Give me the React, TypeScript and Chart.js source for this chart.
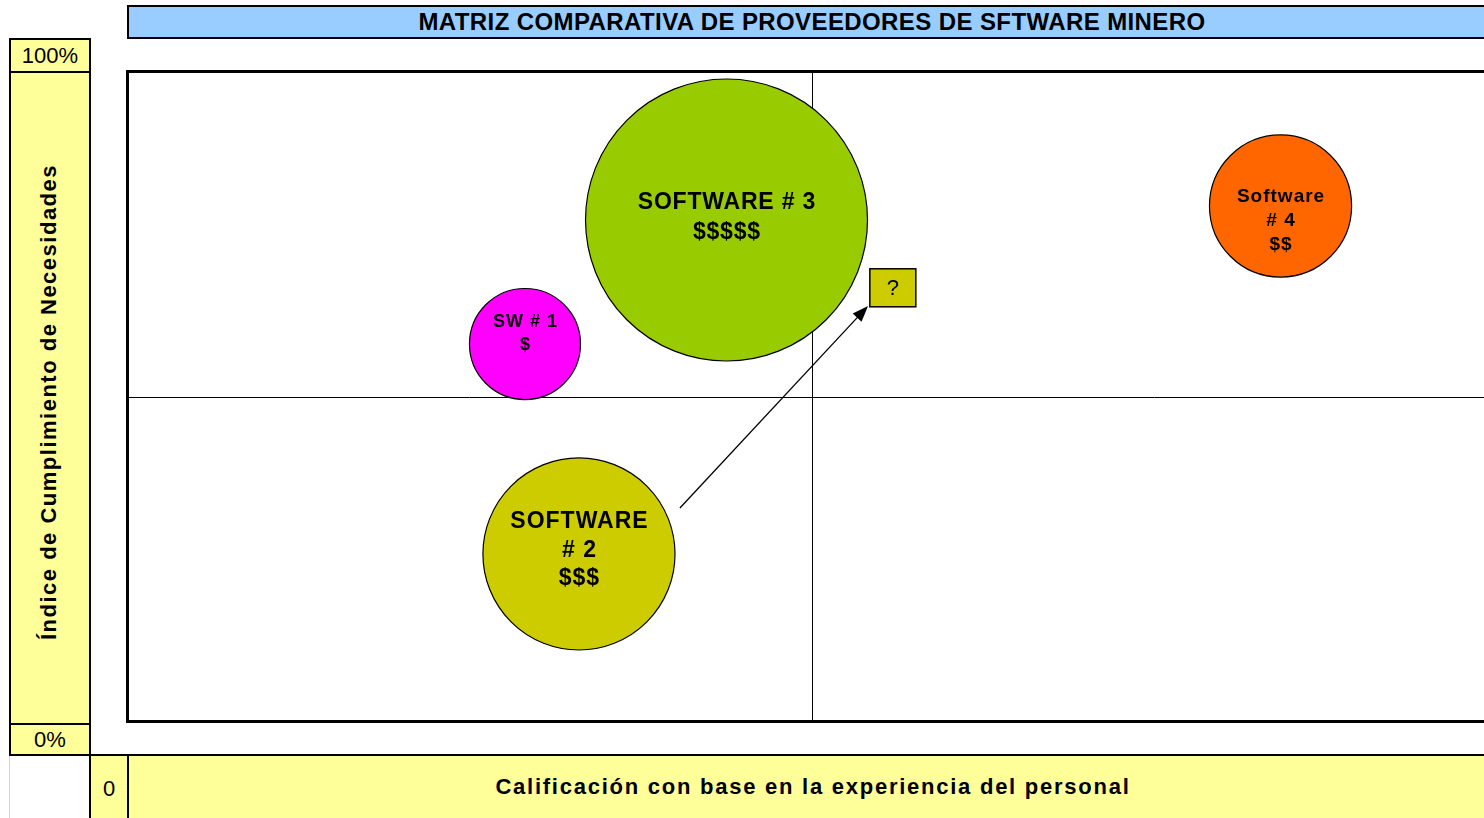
import React, { useEffect, useRef } from 'react';
import { Chart, registerables } from 'chart.js';

Chart.register(...registerables);

// ---------- DATA ----------
const chartTitle = 'MATRIZ COMPARATIVA DE PROVEEDORES DE SFTWARE MINERO';
const xAxisTitle = 'Calificación con base en la experiencia del personal';
const yAxisTitle = 'Índice de Cumplimiento de Necesidades';
const yTickLabels = ['100%', '0%'];
const xTickLabels = ['0'];

const softwareNames = ['SW # 1', 'SOFTWARE # 2', 'SOFTWARE # 3', 'Software # 4'];
const bubbleLabelLines = [
  ['SW # 1', '$'],
  ['SOFTWARE', '# 2', '$$$'],
  ['SOFTWARE # 3', '$$$$$'],
  ['Software', '# 4', '$$'],
];
// x: experience rating (0-100), y: % needs fulfilled, size: relative cost (bubble area)
const experienceScores = [29.05, 32.99, 43.76, 84.2];
const needsCompliance = [58.15, 25.85, 77.23, 79.38];
const costSizes = [15.5, 46.4, 100, 25.4];

const xRange = [0, 100];
const yRange = [0, 100];
const quadrantSplit = [50, 50];

const candidateLabel = '?';
const candidatePoint = [55.9, 66.8];
const arrowFrom = [40.36, 32.92];
const arrowTo = [54.09, 64.0];

// ---------- STYLE ----------
const FONT = "'Liberation Sans', Arial, Helvetica, sans-serif";
const bubbleColors = ['#FF00FF', '#CCCC00', '#99CC00', '#FF6600'];
const MAX_RADIUS = 141;
const labelStyles = [
  { size: 18, lh: 23, dy: -10.5, ls: 1 },
  { size: 23, lh: 28.5, dy: -3.5, ls: 1 },
  { size: 23, lh: 30, dy: -2, ls: 0.8 },
  { size: 19, lh: 24, dy: 15, ls: 1 },
];
const YELLOW = '#FFFF99';
const BLUE = '#99CCFF';

const matrixPlugin = {
  id: 'matrixDecor',
  beforeDatasetsDraw(chart: any) {
    const { ctx, chartArea: a, scales } = chart;
    const x = scales.x;
    const y = scales.y;
    ctx.save();
    ctx.strokeStyle = '#000';
    ctx.lineWidth = 1;
    const mx = Math.round(x.getPixelForValue(quadrantSplit[0])) + 0.5;
    const my = Math.round(y.getPixelForValue(quadrantSplit[1])) + 0.5;
    ctx.beginPath();
    ctx.moveTo(mx, a.top);
    ctx.lineTo(mx, a.bottom);
    ctx.moveTo(a.left, my);
    ctx.lineTo(a.right, my);
    ctx.stroke();
    ctx.lineWidth = 3;
    ctx.strokeRect(a.left + 0.5, a.top - 0.5, a.right - a.left, a.bottom - a.top);
    ctx.restore();
  },
  afterDatasetsDraw(chart: any) {
    const { ctx, scales } = chart;
    const x = scales.x;
    const y = scales.y;
    ctx.save();
    // bubble labels
    chart.data.datasets.forEach((ds: any, i: number) => {
      const el = chart.getDatasetMeta(i).data[0];
      if (!el) return;
      const st = labelStyles[i];
      const lines = bubbleLabelLines[i];
      ctx.font = `bold ${st.size}px ${FONT}`;
      (ctx as any).letterSpacing = `${st.ls}px`;
      ctx.fillStyle = '#000';
      ctx.textAlign = 'center';
      ctx.textBaseline = 'middle';
      const n = lines.length;
      lines.forEach((t: string, k: number) => {
        const ty = el.y + st.dy + (k - (n - 1) / 2) * st.lh;
        ctx.fillText(t, el.x + st.ls / 2, ty);
      });
    });
    (ctx as any).letterSpacing = '0px';
    // arrow
    const x1 = x.getPixelForValue(arrowFrom[0]);
    const y1 = y.getPixelForValue(arrowFrom[1]);
    const x2 = x.getPixelForValue(arrowTo[0]);
    const y2 = y.getPixelForValue(arrowTo[1]);
    const ang = Math.atan2(y2 - y1, x2 - x1);
    const hl = 16;
    const hw = 6;
    ctx.strokeStyle = '#000';
    ctx.fillStyle = '#000';
    ctx.lineWidth = 1.3;
    ctx.beginPath();
    ctx.moveTo(x1, y1);
    ctx.lineTo(x2 - Math.cos(ang) * hl * 0.8, y2 - Math.sin(ang) * hl * 0.8);
    ctx.stroke();
    ctx.beginPath();
    ctx.moveTo(x2, y2);
    const bx = x2 - Math.cos(ang) * hl;
    const by = y2 - Math.sin(ang) * hl;
    ctx.lineTo(bx + Math.sin(ang) * hw, by - Math.cos(ang) * hw);
    ctx.lineTo(bx - Math.sin(ang) * hw, by + Math.cos(ang) * hw);
    ctx.closePath();
    ctx.fill();
    // candidate box
    const cx = x.getPixelForValue(candidatePoint[0]);
    const cy = y.getPixelForValue(candidatePoint[1]);
    const bw = 46;
    const bh = 38;
    ctx.fillStyle = '#CCCC00';
    ctx.fillRect(cx - bw / 2, cy - bh / 2, bw, bh);
    ctx.lineWidth = 1.5;
    ctx.strokeStyle = '#000';
    ctx.strokeRect(cx - bw / 2, cy - bh / 2, bw, bh);
    ctx.fillStyle = '#000';
    ctx.font = `22px ${FONT}`;
    ctx.textAlign = 'center';
    ctx.textBaseline = 'middle';
    ctx.fillText(candidateLabel, cx, cy + 1);
    ctx.restore();
  },
};

function BubbleMatrix() {
  const ref = useRef<HTMLCanvasElement>(null);
  useEffect(() => {
    if (!ref.current) return;
    const datasets = softwareNames.map((name, i) => ({
      label: name,
      data: [{ x: experienceScores[i], y: needsCompliance[i], r: MAX_RADIUS * Math.sqrt(costSizes[i] / 100) }],
      backgroundColor: bubbleColors[i],
      borderColor: '#000',
      borderWidth: 1.2,
      hoverRadius: 0,
    }));
    const chart = new Chart(ref.current, {
      type: 'bubble',
      data: { datasets },
      options: {
        responsive: false,
        animation: false,
        devicePixelRatio: 1,
        layout: { autoPadding: false, padding: { left: 127, top: 72, right: 23, bottom: 96 } },
        plugins: { legend: { display: false }, tooltip: { enabled: false }, title: { display: false } },
        scales: {
          x: { type: 'linear', min: xRange[0], max: xRange[1], display: false },
          y: { type: 'linear', min: yRange[0], max: yRange[1], display: false },
        },
        events: [],
      },
      plugins: [matrixPlugin],
    } as any);
    return () => chart.destroy();
  }, []);
  return (
    <canvas
      ref={ref}
      width={1520}
      height={818}
      style={{ position: 'absolute', left: 0, top: 0, width: 1520, height: 818 }}
    />
  );
}

export default function App() {
  const box: React.CSSProperties = {
    position: 'absolute',
    boxSizing: 'border-box',
    border: '2px solid #000',
    background: YELLOW,
  };
  return (
    <div
      style={{
        position: 'fixed',
        left: 0,
        top: 0,
        width: 1484,
        height: 818,
        overflow: 'hidden',
        background: '#fff',
        fontFamily: FONT,
        color: '#000',
      }}
    >
      {/* title bar */}
      <div
        style={{
          position: 'absolute',
          left: 127,
          top: 5,
          width: 1420,
          height: 34,
          boxSizing: 'border-box',
          border: '2px solid #000',
          background: BLUE,
        }}
      />
      <div
        style={{
          position: 'absolute',
          left: 127,
          top: 7,
          width: 1370,
          height: 30,
          lineHeight: '30px',
          textAlign: 'center',
          fontWeight: 'bold',
          fontSize: 24,
          letterSpacing: '0.4px',
          whiteSpace: 'nowrap',
        }}
      >
        {chartTitle}
      </div>

      {/* y axis column */}
      <div style={{ ...box, left: 9, top: 38, width: 82, height: 35, textAlign: 'center', fontSize: 22, lineHeight: '31px' }}>
        {yTickLabels[0]}
      </div>
      <div style={{ ...box, left: 9, top: 71, width: 82, height: 654 }} />
      <div style={{ ...box, left: 9, top: 723, width: 82, height: 33, textAlign: 'center', fontSize: 22, lineHeight: '30px' }}>
        {yTickLabels[1]}
      </div>
      <div
        style={{
          position: 'absolute',
          left: 49,
          top: 402,
          transform: 'translate(-50%, -50%) rotate(-90deg)',
          whiteSpace: 'nowrap',
          fontWeight: 'bold',
          fontSize: 22,
          letterSpacing: '1.5px',
          lineHeight: '26px',
        }}
      >
        {yAxisTitle}
      </div>

      {/* bottom row */}
      <div style={{ position: 'absolute', left: 9, top: 754, width: 1500, height: 2, background: '#000' }} />
      <div style={{ position: 'absolute', left: 9, top: 756, width: 1, height: 62, background: '#d4d4d4' }} />
      <div
        style={{
          position: 'absolute',
          left: 89,
          top: 754,
          width: 40,
          height: 80,
          boxSizing: 'border-box',
          border: '2px solid #000',
          background: YELLOW,
        }}
      />
      <div
        style={{
          position: 'absolute',
          left: 127,
          top: 754,
          width: 1420,
          height: 80,
          boxSizing: 'border-box',
          border: '2px solid #000',
          background: YELLOW,
        }}
      />
      <div
        style={{
          position: 'absolute',
          left: 89,
          top: 756,
          width: 40,
          height: 62,
          lineHeight: '66px',
          textAlign: 'center',
          fontSize: 22,
        }}
      >
        {xTickLabels[0]}
      </div>
      <div
        style={{
          position: 'absolute',
          left: 127,
          top: 756,
          width: 1372,
          height: 62,
          lineHeight: '62px',
          textAlign: 'center',
          fontWeight: 'bold',
          fontSize: 22,
          letterSpacing: '1.75px',
          whiteSpace: 'nowrap',
        }}
      >
        {xAxisTitle}
      </div>

      <BubbleMatrix />
    </div>
  );
}
